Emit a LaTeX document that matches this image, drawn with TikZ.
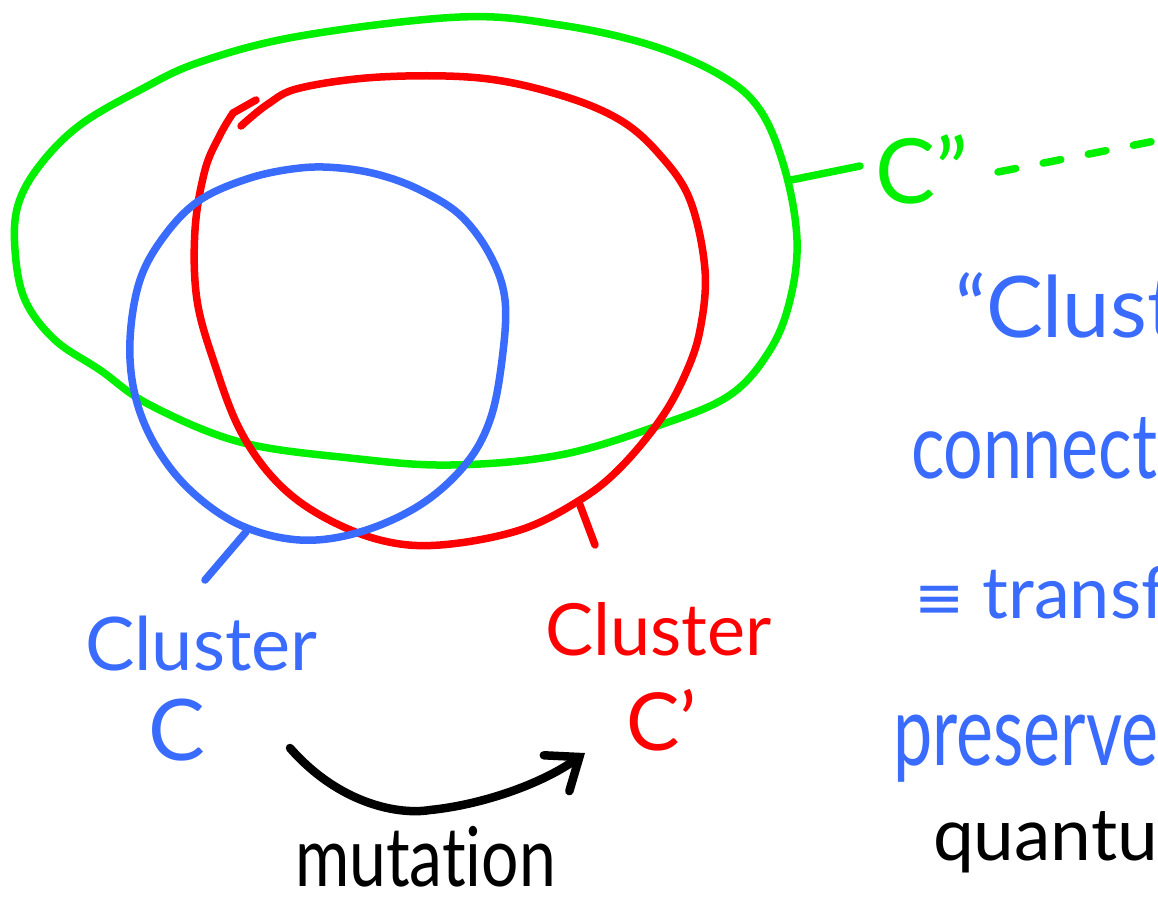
\documentclass[tikz,border=0pt]{standalone}
\usepackage{fontspec}
\setmainfont{Lato}[Ligatures={TeX,NoCommon}]
\newfontfamily\symfont{DejaVu Sans}
\usetikzlibrary{arrows.meta}
\definecolor{hgreen}{HTML}{00F000}
\definecolor{hred}{HTML}{FF0000}
\definecolor{hblue}{HTML}{3A6BFF}
\tikzset{
  pen/.style={line width=7.5pt, line cap=round, line join=round},
  lbl/.style={inner sep=0pt, outer sep=0pt, anchor=base west},
}
\newcommand{\fs}[1]{\fontsize{#1}{#1}\selectfont}
\begin{document}
\begin{tikzpicture}[x=1pt,y=-1pt]
\path[use as bounding box, fill=white] (0,0) rectangle (1158,906);

% green curve
\draw[pen, hgreen] plot[smooth cycle, tension=0.6] coordinates {
 (460,17) (560,25) (650,45) (720,75) (760,110) (785,170) (797,240) (790,300)
 (770,350) (730,395) (660,425) (560,455) (450,465) (350,458) (240,442)
 (150,405) (100,370) (55,340) (25,300) (15,250) (18,205) (40,165) (80,125)
 (140,90) (200,62) (300,36)};
% red curve (open, with hook at the top left)
\draw[pen, hred] plot[smooth, tension=0.6] coordinates {
 (241,126) (268,104) (300,88) (380,77) (480,78) (560,95) (620,120) (660,155)
 (690,200) (705,270) (700,330) (685,375) (660,420) (620,468) (580,500)
 (520,530) (440,545) (380,540) (320,515) (275,480) (240,430) (215,365)
 (197,300) (195,230) (205,170) (220,135) (233,113)};
\draw[pen, hred] (233,113) -- (256,100);
% blue curve
\draw[pen, hblue] plot[smooth cycle, tension=0.6] coordinates {
 (340,168) (380,175) (420,190) (460,215) (490,255) (505,300) (502,360)
 (490,420) (465,465) (420,505) (360,532) (300,540) (240,525) (190,490)
 (155,445) (135,395) (130,340) (140,280) (165,235) (200,200) (250,178)
 (300,168)};

% labels
\node[lbl, text=hgreen, font=\fs{90}] (gC) at (875,203) {C"};
\node[lbl, text=hblue, font=\fs{74}] (bCl) at (85,670) {Cluster};
\node[lbl, text=hblue, font=\fs{85}] (bC) at (148,760) {C};
\node[lbl, text=hred, font=\fs{72}] (rCl) at (545,655) {Cluster};
\node[lbl, text=hred, font=\fs{80}] (rC) at (626,750) {C’};
\node[lbl, font=\fs{66}] (mut) at (295,886) {\scalebox{1}[1.25]{mutation}};

% stubs
\coordinate (gS1) at (791,180); \coordinate (gS2) at (860,166);
\draw[pen, hgreen] (gS1) -- (gS2);
\coordinate (gD1) at (998,172); \coordinate (gD2) at (1170,138);
\draw[pen, hgreen, dash pattern=on 18pt off 28pt] (gD1) -- (gD2);
\coordinate (bS1) at (246,532); \coordinate (bS2) at (205,580);
\draw[pen, hblue] (bS1) -- (bS2);
\coordinate (rS1) at (580,505); \coordinate (rS2) at (595,545);
\draw[pen, hred] (rS1) -- (rS2);

% mutation arrow
\coordinate (aS) at (290,748); \coordinate (aE) at (585,753);
\draw[pen, line width=8.5pt, -{Straight Barb[length=28pt,width=44pt,line cap=round]}]
  (aS) .. controls (340,805) and (400,815) .. (430,810)
       .. controls (480,805) and (540,785) .. (aE);

% right text, clipped by the page edge as in the reference
\begin{scope}
\clip (0,0) rectangle (1158,906);
\node[lbl, text=hblue, font=\fs{85}] (t1) at (955,337) {“Cluster};
\node[lbl, text=hblue, font=\fs{70}] (t2) at (911,478) {\scalebox{1}[1.3]{connected}};
\node[lbl, text=hblue, font=\fs{72}] (t3) at (914,618) {{\symfont\fs{60}≡} transformation};
\node[lbl, text=hblue, font=\fs{70}] (t4) at (893,765) {\scalebox{1}[1.4]{preserves}};
\node[lbl, font=\fs{73}] (t5) at (933,860) {quantum};
\end{scope}
\end{tikzpicture}
\end{document}
